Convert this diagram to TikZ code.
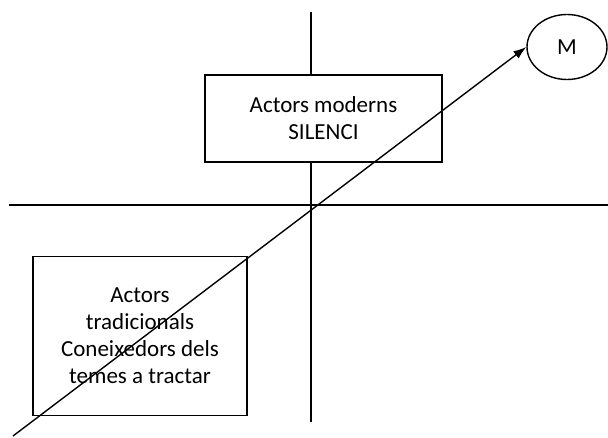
\documentclass[tikz,border=0pt]{standalone}
\usepackage{fontspec}
\setmainfont{Carlito}
\usetikzlibrary{arrows.meta,shapes.geometric}

\begin{document}
\begin{tikzpicture}[
  x=1pt, y=1pt,
  every node/.style={
    draw=black,
    line width=1.4pt,
    align=center,
    inner sep=0pt,
    font=\fontsize{23}{27}\selectfont
  },
  actorbox/.style={rectangle},
  marker/.style={ellipse},
  axis/.style={line width=1.4pt},
  arrow/.style={-{Latex[length=13pt,width=9pt]}, line width=1.4pt}
]
  \useasboundingbox (0,0) rectangle (608,437);

  \coordinate (vtop) at (311,425);
  \coordinate (vbot) at (311,15);
  \coordinate (hleft) at (9,232);
  \coordinate (hright) at (608,232);
  \coordinate (start) at (13,1);

  \draw[axis] (vtop) -- (vbot);
  \draw[axis] (hleft) -- (hright);

  \node[actorbox, fill=white, minimum width=237pt, minimum height=87pt] (moderns) at (323.5,318.5) {Actors moderns\\SILENCI};
  \node[actorbox, fill=white, minimum width=214pt, minimum height=159pt] (tradicionals) at (140,101) {Actors\\tradicionals\\Coneixedors dels\\temes a tractar};
  \node[marker, minimum width=80pt, minimum height=65pt] (m) at (567,390) {M};

  \draw[arrow] (start) -- (m.west);
\end{tikzpicture}
\end{document}
